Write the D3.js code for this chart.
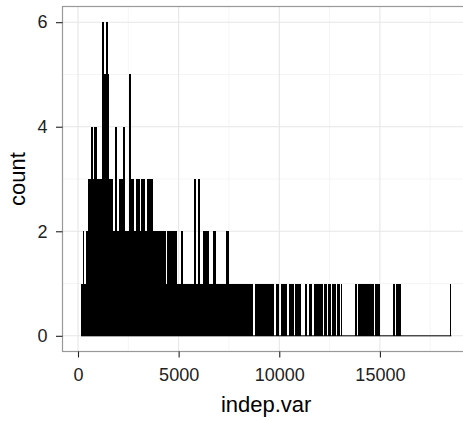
<!DOCTYPE html>
<html>
<head>
<meta charset="utf-8">
<script src="https://cdn.jsdelivr.net/npm/d3@7"></script>
<style>
  html, body { margin: 0; padding: 0; background: #fff; }
  svg { display: block; }
  text { font-family: "Liberation Sans", Arial, sans-serif; }
</style>
</head>
<body>
<svg id="chart" width="463" height="421"></svg>
<script>
// Histogram of indep.var: fixed-width bins, count per bin
const binStart = 150;
const binWidth = 50;
const counts = [
  1,1,2,1,1,2,2,3,3,3,
  4,4,3,4,4,4,3,3,3,3,
  3,6,6,5,5,6,6,5,3,3,
  3,3,2,2,4,4,2,2,3,3,
  3,3,4,4,2,2,2,2,5,5,
  3,3,3,2,2,3,3,3,3,2,
  3,3,3,3,2,2,3,3,3,3,
  3,3,2,2,2,2,2,2,2,2,
  2,2,2,2,1,2,2,2,2,2,
  2,2,2,2,2,1,1,1,1,2,
  2,1,1,1,1,1,1,1,1,1,
  1,1,3,3,1,1,3,3,1,1,
  1,2,2,2,2,2,2,1,1,1,
  1,2,2,2,1,1,1,1,1,1,
  1,1,1,1,2,2,2,1,1,1,
  1,1,1,1,1,1,1,1,1,1,
  1,1,1,1,1,1,1,1,1,1,
  1,0,0,1,1,1,1,1,1,1,
  1,1,1,1,1,1,1,1,1,1,
  1,1,0,0,1,1,1,0,0,1,
  1,1,1,1,1,0,0,1,1,1,
  1,1,0,1,1,1,1,1,1,0,
  0,0,0,1,1,0,0,1,1,1,
  0,0,1,1,1,1,1,1,1,1,
  0,1,1,1,0,1,1,1,0,1,
  1,1,1,0,1,1,1,0,1,0,
  0,0,0,0,0,0,0,0,0,0,
  0,0,1,1,0,1,1,1,1,1,
  1,1,1,1,1,1,1,1,1,1,
  1,0,1,1,1,1,1,0,0,0,
  0,0,0,0,0,0,0,0,0,0,
  1,1,0,1,1,1,1,1,0,0,
  0,0,0,0,0,0,0,0,0,0,
  0,0,0,0,0,0,0,0,0,0,
  0,0,0,0,0,0,0,0,0,0,
  0,0,0,0,0,0,0,0,0,0,
  0,0,0,0,0,0,0,1
];
const xTicks = [0, 5000, 10000, 15000];
const xMinor = [2500, 7500, 12500, 17500];
const yTicks = [0, 2, 4, 6];
const yMinor = [1, 3, 5];
const xTitle = "indep.var";
const yTitle = "count";

const bins = counts.map((c, i) => ({
  x0: binStart + i * binWidth,
  x1: binStart + (i + 1) * binWidth,
  count: c
}));

const svg = d3.select("#chart");

// Panel geometry
const panel = { left: 62.5, top: 6.5, bottom: 351.5 };

// Scales with a 5% margin around the data, as ggplot does
const xLo = d3.min(bins, d => d.x0), xHi = d3.max(bins, d => d.x1);
const xPad = (xHi - xLo) * 0.05;
const pxPerUnit = 0.020127;
const x = d3.scaleLinear()
  .domain([xLo - xPad, xHi + xPad])
  .range([panel.left, panel.left + (xHi - xLo + 2 * xPad) * pxPerUnit]);
panel.right = x.range()[1];

const yMax = d3.max(bins, d => d.count);
const y = d3.scaleLinear()
  .domain([-yMax * 0.05, yMax * 1.05])
  .range([panel.bottom, panel.top]);

// Panel background
svg.append("rect")
  .attr("x", panel.left).attr("y", panel.top)
  .attr("width", panel.right - panel.left).attr("height", panel.bottom - panel.top)
  .attr("fill", "#fff");

// Grid lines
const grid = svg.append("g");
grid.selectAll("line.xminor").data(xMinor).join("line")
  .attr("x1", d => x(d)).attr("x2", d => x(d))
  .attr("y1", panel.top).attr("y2", panel.bottom)
  .attr("stroke", "#f2f2f2").attr("stroke-width", 0.8);
grid.selectAll("line.yminor").data(yMinor).join("line")
  .attr("y1", d => y(d)).attr("y2", d => y(d))
  .attr("x1", panel.left).attr("x2", panel.right)
  .attr("stroke", "#f2f2f2").attr("stroke-width", 0.8);
grid.selectAll("line.xmajor").data(xTicks).join("line")
  .attr("x1", d => x(d)).attr("x2", d => x(d))
  .attr("y1", panel.top).attr("y2", panel.bottom)
  .attr("stroke", "#e6e6e6").attr("stroke-width", 1.1);
grid.selectAll("line.ymajor").data(yTicks).join("line")
  .attr("y1", d => y(d)).attr("y2", d => y(d))
  .attr("x1", panel.left).attr("x2", panel.right)
  .attr("stroke", "#e6e6e6").attr("stroke-width", 1.1);

// Baseline drawn by the outlines of every bin, including empty ones
const bars = svg.append("g");
bars.append("line")
  .attr("x1", x(xLo)).attr("x2", x(xHi))
  .attr("y1", y(0)).attr("y2", y(0))
  .attr("stroke", "#000").attr("stroke-width", 1);

// Bars: one filled column per non-empty bin
bars.selectAll("rect").data(bins.filter(d => d.count > 0)).join("rect")
  .attr("x", d => x(d.x0))
  .attr("width", d => x(d.x1) - x(d.x0))
  .attr("y", d => y(d.count))
  .attr("height", d => y(0) - y(d.count) + 0.5)
  .attr("fill", "#000")
  .attr("shape-rendering", "crispEdges");

// Panel border
svg.append("rect")
  .attr("x", panel.left).attr("y", panel.top)
  .attr("width", panel.right - panel.left).attr("height", panel.bottom - panel.top)
  .attr("fill", "none").attr("stroke", "#999").attr("stroke-width", 1.2);

// Axes
const xAxis = svg.append("g")
  .attr("transform", `translate(0,${panel.bottom})`)
  .call(d3.axisBottom(x).tickValues(xTicks).tickFormat(d3.format("d")).tickSize(6).tickPadding(10.5));
const yAxis = svg.append("g")
  .attr("transform", `translate(${panel.left},0)`)
  .call(d3.axisLeft(y).tickValues(yTicks).tickFormat(d3.format("d")).tickSize(6.5).tickPadding(8.5));

[xAxis, yAxis].forEach(g => {
  g.select(".domain").remove();
  g.selectAll(".tick line").attr("stroke", "#222").attr("stroke-width", 1.1);
  g.selectAll(".tick text")
    .attr("fill", "#222")
    .style("font-size", "18px")
    .style("font-family", '"Liberation Sans", Arial, sans-serif');
});

// Axis titles
svg.append("text")
  .attr("x", (panel.left + panel.right) / 2)
  .attr("y", 411.5)
  .attr("text-anchor", "middle")
  .attr("fill", "#000")
  .style("font-size", "22px")
  .text(xTitle);

svg.append("text")
  .attr("transform", `translate(24.5,${(panel.top + panel.bottom) / 2}) rotate(-90)`)
  .attr("text-anchor", "middle")
  .attr("fill", "#000")
  .style("font-size", "22px")
  .text(yTitle);
</script>
</body>
</html>
